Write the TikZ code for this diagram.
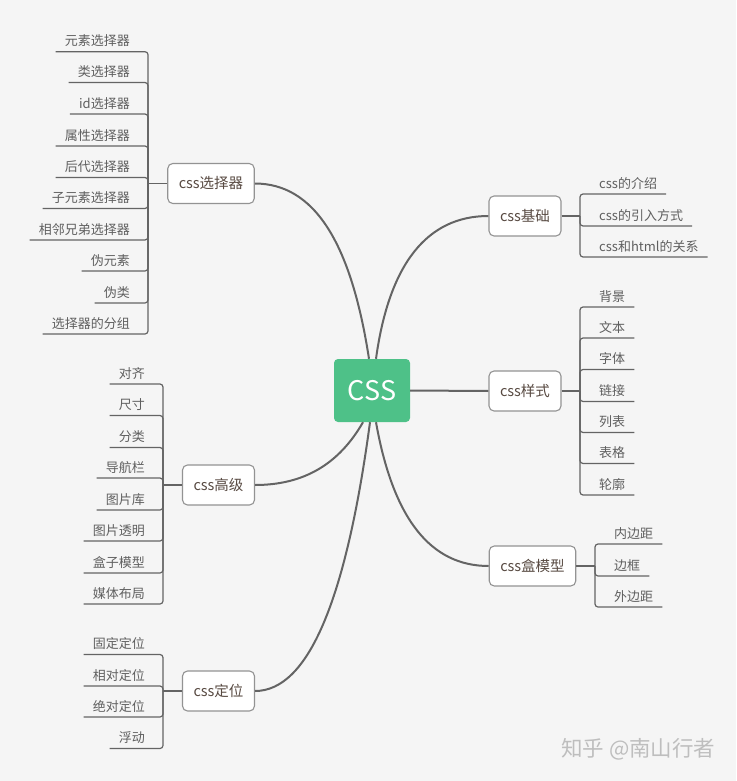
\documentclass[tikz,border=0pt]{standalone}
\usepackage{fontspec}
\setmainfont{Noto Sans CJK SC}
\definecolor{bgc}{RGB}{245,245,245}
\definecolor{greenc}{RGB}{78,193,136}
\definecolor{linec}{RGB}{100,100,100}
\definecolor{leaftxt}{RGB}{95,95,95}
\definecolor{branchtxt}{RGB}{88,74,66}
\definecolor{wm}{RGB}{190,190,190}
\tikzset{
  mainline/.style={draw=linec, line width=2pt},
  brk/.style={draw=linec, line width=1.2pt, rounded corners=3pt},
  branch/.style={draw=gray!85, fill=white, line width=1.1pt, rounded corners=5pt,
    inner xsep=11pt, minimum height=40pt, text=branchtxt, font=\fontsize{14.5}{16}\selectfont},
  leafbase/.style={inner xsep=9pt, inner ysep=2.5pt, text height=10pt, text depth=3pt,
    text=leaftxt, font=\fontsize{13}{15}\selectfont},
  leafL/.style={leafbase, anchor=south east},
  leafR/.style={leafbase, anchor=south west},
}
\begin{document}
\begin{tikzpicture}[x=1pt,y=-1pt]
\fill[bgc] (0,0) rectangle (736,781);
\useasboundingbox (0,0) rectangle (736,781);

% centre
\node[fill=greenc, rounded corners=4pt, minimum width=76pt, minimum height=63pt,
  text=white, font=\fontsize{27}{30}\selectfont] (C) at (372,390.5) {CSS};

% branches
\node[branch] (A) at (211,183.5) {css选择器};
\node[branch] (B) at (525,216) {css基础};
\node[branch] (S) at (525,391) {css样式};
\node[branch] (M) at (532.5,566) {css盒模型};
\node[branch] (G) at (218.5,485) {css高级};
\node[branch] (D) at (218.5,691) {css定位};

% main connectors
\draw[mainline] ([xshift=-3pt]C.north) .. controls (351,242) and (314,183.5) .. (A.east);
\draw[mainline] ([xshift=4pt]C.north) .. controls (389,264) and (427,216) .. (B.west);
\draw[mainline] (C.east) -- (S.west);
\draw[mainline] ([xshift=4pt]C.south) .. controls (393,518) and (430,566) .. (M.west);
\draw[mainline] ([xshift=-9pt]C.south) .. controls (339,464) and (304,485) .. (G.east);
\draw[mainline] ([xshift=-2pt]C.south) .. controls (346,601) and (308,691) .. (D.east);

% ---------- css选择器 leaves ----------
\coordinate (jA) at (148,183.5);
\draw[brk] (A.west) -- (jA);
\node[leafL] (a1) at (139,51.7) {元素选择器};
\node[leafL] (a2) at (139,82.5) {类选择器};
\node[leafL] (a3) at (139,114) {id选择器};
\node[leafL] (a4) at (139,146) {属性选择器};
\node[leafL] (a5) at (139,177.5) {后代选择器};
\node[leafL] (a6) at (139,208.5) {子元素选择器};
\node[leafL] (a7) at (139,240) {相邻兄弟选择器};
\node[leafL] (a8) at (139,271) {伪元素};
\node[leafL] (a9) at (139,303) {伪类};
\node[leafL] (a10) at (139,334) {选择器的分组};
\foreach \n in {a1,a2,a3,a4,a5,a6,a7,a8,a9,a10}
  \draw[brk] (jA) |- (\n.south west);

% ---------- css基础 leaves ----------
\coordinate (jB) at (580,216);
\draw[brk] (B.east) -- (jB);
\node[leafR] (b1) at (590,194) {css的介绍};
\node[leafR] (b2) at (590,226) {css的引入方式};
\node[leafR] (b3) at (590,257) {css和html的关系};
\foreach \n in {b1,b2,b3}
  \draw[brk] (jB) |- (\n.south east);

% ---------- css样式 leaves ----------
\coordinate (jS) at (580,391);
\draw[brk] (S.east) -- (jS);
\node[leafR] (s1) at (590,307) {背景};
\node[leafR] (s2) at (590,338) {文本};
\node[leafR] (s3) at (590,369.5) {字体};
\node[leafR] (s4) at (590,401.5) {链接};
\node[leafR] (s5) at (590,432.5) {列表};
\node[leafR] (s6) at (590,463.5) {表格};
\node[leafR] (s7) at (590,495) {轮廓};
\foreach \n in {s1,s2,s3,s4,s5,s6,s7}
  \draw[brk] (jS) |- (\n.south east);

% ---------- css盒模型 leaves ----------
\coordinate (jM) at (595,566);
\draw[brk] (M.east) -- (jM);
\node[leafR] (m1) at (605,544) {内边距};
\node[leafR] (m2) at (605,576) {边框};
\node[leafR] (m3) at (605,607) {外边距};
\foreach \n in {m1,m2,m3}
  \draw[brk] (jM) |- (\n.south east);

% ---------- css高级 leaves ----------
\coordinate (jG) at (163,485);
\draw[brk] (G.west) -- (jG);
\node[leafL] (g1) at (154,384) {对齐};
\node[leafL] (g2) at (154,415.5) {尺寸};
\node[leafL] (g3) at (154,447.5) {分类};
\node[leafL] (g4) at (154,478) {导航栏};
\node[leafL] (g5) at (154,510) {图片库};
\node[leafL] (g6) at (154,541) {图片透明};
\node[leafL] (g7) at (154,573) {盒子模型};
\node[leafL] (g8) at (154,604) {媒体布局};
\foreach \n in {g1,g2,g3,g4,g5,g6,g7,g8}
  \draw[brk] (jG) |- (\n.south west);

% ---------- css定位 leaves ----------
\coordinate (jD) at (163,691);
\draw[brk] (D.west) -- (jD);
\node[leafL] (d1) at (154,654.5) {固定定位};
\node[leafL] (d2) at (154,686) {相对定位};
\node[leafL] (d3) at (154,717) {绝对定位};
\node[leafL] (d4) at (154,748.5) {浮动};
\foreach \n in {d1,d2,d3,d4}
  \draw[brk] (jD) |- (\n.south west);

% watermark
\node[text=wm, font=\fontsize{21.5}{24}\selectfont, anchor=east] (wmk) at (719,749) {知乎 @南山行者};
\end{tikzpicture}
\end{document}
